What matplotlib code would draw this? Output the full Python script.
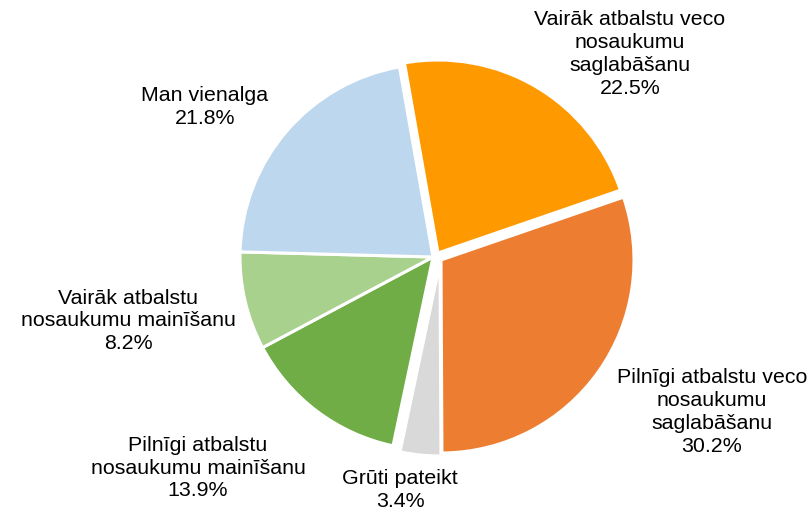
import matplotlib
matplotlib.use("Agg")
import matplotlib.pyplot as plt

categories = [
    "Vairāk atbalstu veco\nnosaukumu\nsaglabāšanu",
    "Pilnīgi atbalstu veco\nnosaukumu\nsaglabāšanu",
    "Grūti pateikt",
    "Pilnīgi atbalstu\nnosaukumu mainīšanu",
    "Vairāk atbalstu\nnosaukumu mainīšanu",
    "Man vienalga",
]
values = [22.5, 30.2, 3.4, 13.9, 8.2, 21.8]
colors = ["#FF9900", "#ED7D31", "#D9D9D9", "#70AD47", "#A9D18E", "#BDD7EE"]

# wedge displacement (pixels, x right / y up) — styling only
shift_px = [(5, 4), (8, -3), (7, -6), (0, 0), (0, 0), (0, 0)]

# label centre positions in figure pixels (x from left, y from top)
label_px = [(630, 54), (712, 412), (400, 490), (198, 468), (128, 321), (205, 107)]

W, H = 808, 513
fig = plt.figure(figsize=(W / 100, H / 100), dpi=100)
cx, cy, R = 433, 257, 193
ax = fig.add_axes([(cx - R) / W, (H - cy - R) / H, 2 * R / W, 2 * R / H])
wedges, _ = ax.pie(values, colors=colors, startangle=100, counterclock=False,
                   radius=1.0, wedgeprops=dict(edgecolor="white", linewidth=2.2))
for w, (dx, dy) in zip(wedges, shift_px):
    w.set_center((dx / R, dy / R))
ax.set_xlim(-1, 1)
ax.set_ylim(-1, 1)
ax.set_aspect("equal")
ax.axis("off")

for cat, val, (px, py) in zip(categories, values, label_px):
    fig.text(px / W, 1 - py / H, f"{cat}\n{val:.1f}%", ha="center", va="center",
             fontsize=15.4, family=["Liberation Sans", "DejaVu Sans"],
             linespacing=1.25, color="#000000")

fig.savefig("out.png", dpi=100)
